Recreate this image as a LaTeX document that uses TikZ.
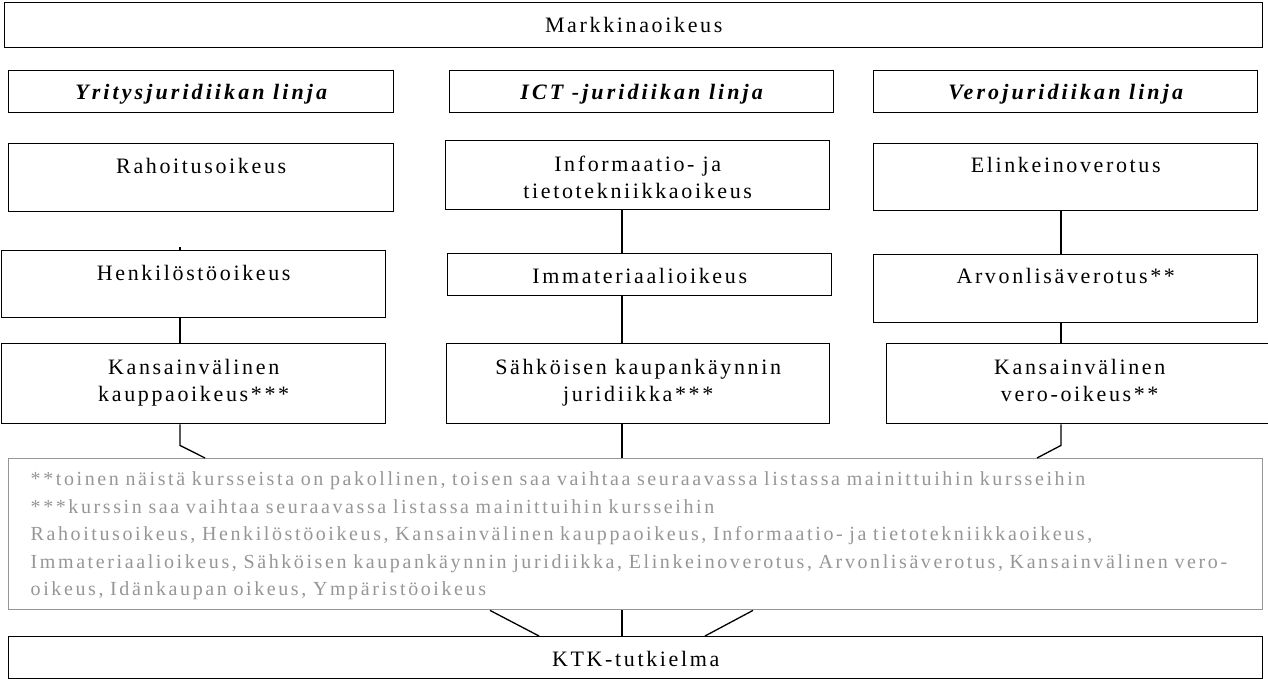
\documentclass[tikz,border=0pt]{standalone}
\usepackage{fontspec}
\setmainfont{Liberation Serif}
\usetikzlibrary{calc}
\definecolor{notegray}{RGB}{150,150,150}
\tikzset{
  box/.style={draw,line width=1.4pt,inner sep=0pt,anchor=north west,align=center,
    font=\fontsize{22}{27}\selectfont\addfontfeatures{LetterSpace=12}},
  linja/.style={box,font=\fontsize{22}{27}\selectfont\bfseries\itshape\addfontfeatures{LetterSpace=14}},
  notebox/.style={draw=notegray,text=notegray,line width=1.4pt,inner sep=0pt,inner xsep=22pt,
    anchor=north west,align=left,text width=1210pt,
    font=\fontsize{20}{27.5}\selectfont\addfontfeatures{LetterSpace=13}},
  conn/.style={line width=1.3pt}
}
\begin{document}
\begin{tikzpicture}[x=1pt,y=-1pt]
  \useasboundingbox (0,0) rectangle (1268,679);
  \node[box,minimum width=1258,minimum height=45,text height=30,text depth=15] (markk) at (4,2) {Markkinaoikeus};
  \node[linja,minimum width=385,minimum height=42,text height=29,text depth=13] (yrit) at (8,70) {Yritysjuridiikan linja};
  \node[linja,minimum width=384,minimum height=42,text height=29,text depth=13] (ict) at (449,70) {ICT -juridiikan linja};
  \node[linja,minimum width=384,minimum height=42,text height=29,text depth=13] (vero) at (873,70) {Verojuridiikan linja};
  \node[box,minimum width=385,minimum height=68,text height=30,text depth=38] (raho) at (8,143) {Rahoitusoikeus};
  \node[box,minimum width=384,minimum height=69,text height=58,text depth=11] (info) at (445,140) {Informaatio- ja\\tietotekniikkaoikeus};
  \node[box,minimum width=384,minimum height=67,text height=29,text depth=38] (elin) at (873,143) {Elinkeinoverotus};
  \node[box,minimum width=384,minimum height=67,text height=30,text depth=37] (henk) at (1,250) {Henkilöstöoikeus};
  \node[box,minimum width=384,minimum height=42,text height=30,text depth=12] (imma) at (447,253) {Immateriaalioikeus};
  \node[box,minimum width=384,minimum height=68,text height=29,text depth=39] (arvo) at (873,254) {Arvonlisäverotus**};
  \node[box,minimum width=384,minimum height=80,text height=58,text depth=22] (kansk) at (1,343) {Kansainvälinen\\kauppaoikeus***};
  \node[box,minimum width=383,minimum height=80,text height=58,text depth=22] (sahk) at (446,343) {Sähköisen kaupankäynnin\\juridiikka***};
  \node[box,minimum width=386,minimum height=80,text height=58,text depth=22] (kansv) at (886,343) {Kansainvälinen\\vero-oikeus**};
  \node[notebox,minimum width=1254,minimum height=151,text height=27,text depth=124] (notes) at (8,458) {**toinen näistä kursseista on pakollinen, toisen saa vaihtaa seuraavassa listassa mainittuihin kursseihin\\{}
    ***kurssin saa vaihtaa seuraavassa listassa mainittuihin kursseihin\\
    Rahoitusoikeus, Henkilöstöoikeus, Kansainvälinen kauppaoikeus, Informaatio- ja tietotekniikkaoikeus,\\
    Immateriaalioikeus, Sähköisen kaupankäynnin juridiikka, Elinkeinoverotus, Arvonlisäverotus, Kansainvälinen vero-\\
    oikeus, Idänkaupan oikeus, Ympäristöoikeus};
  \node[box,minimum width=1254,minimum height=42,text height=30,text depth=12] (ktk) at (8,636) {KTK-tutkielma};

  \coordinate (ca) at (180,0);
  \coordinate (cb) at (622,0);
  \coordinate (cc) at (1061,0);
  \draw[conn] (henk.north -| ca) -- ++(0,-3);
  \draw[conn] (henk.south -| ca) -- (kansk.north -| ca);
  \draw[conn] (kansk.south -| ca) -- ++(0,21) -- ([xshift=197pt]notes.north west);
  \draw[conn] (info.south -| cb) -- (imma.north -| cb);
  \draw[conn] (imma.south -| cb) -- (sahk.north -| cb);
  \draw[conn] (sahk.south -| cb) -- (notes.north -| cb);
  \draw[conn] (elin.south -| cc) -- (arvo.north -| cc);
  \draw[conn] (arvo.south -| cc) -- (kansv.north -| cc);
  \draw[conn] (kansv.south -| cc) -- ++(0,21) -- ([xshift=1029pt]notes.north west);
  \draw[conn] ([xshift=482pt]notes.south west) -- ([xshift=531pt]ktk.north west);
  \draw[conn] (notes.south -| cb) -- (ktk.north -| cb);
  \draw[conn] ([xshift=745pt]notes.south west) -- ([xshift=697pt]ktk.north west);
\end{tikzpicture}
\end{document}
